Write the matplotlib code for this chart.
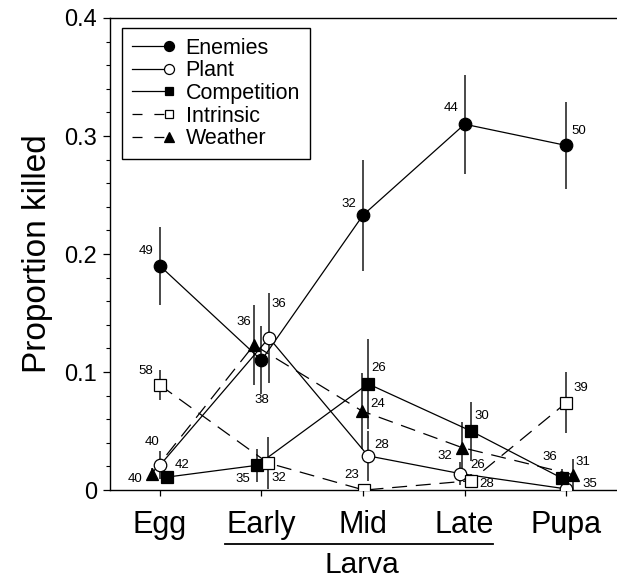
import matplotlib
matplotlib.use("Agg")
import matplotlib.pyplot as plt
import matplotlib.transforms as mtransforms
from matplotlib.legend_handler import HandlerBase
from matplotlib.lines import Line2D
from matplotlib.ticker import MultipleLocator

plt.rcParams["font.family"] = ["Liberation Sans", "DejaVu Sans"]

STAGES = ["Egg", "Early", "Mid", "Late", "Pupa"]
SERIES = ["Enemies", "Plant", "Competition", "Intrinsic", "Weather"]

enemies = [0.190, 0.110, 0.233, 0.310, 0.292]
plant = [0.021, 0.129, 0.029, 0.014, 0.001]
competition = [0.011, 0.021, 0.090, 0.050, 0.010]
intrinsic = [0.089, 0.023, 0.000, 0.008, 0.074]
weather = [0.014, 0.123, 0.067, 0.036, 0.013]

enemies_se = [0.033, 0.029, 0.047, 0.042, 0.037]
plant_se = [0.012, 0.038, 0.021, 0.010, 0.003]
competition_se = [0.004, 0.014, 0.038, 0.025, 0.008]
intrinsic_se = [0.013, 0.022, 0.000, 0.006, 0.026]
weather_se = [0.005, 0.034, 0.032, 0.022, 0.013]

enemies_n = [49, 38, 32, 44, 50]
plant_n = [40, 36, 28, 26, 35]
competition_n = [42, 35, 26, 30, 36]
intrinsic_n = [58, 32, 23, 28, 39]
weather_n = [40, 36, 24, 32, 31]

VALS = {"Enemies": enemies, "Plant": plant, "Competition": competition,
        "Intrinsic": intrinsic, "Weather": weather}
SES = {"Enemies": enemies_se, "Plant": plant_se, "Competition": competition_se,
       "Intrinsic": intrinsic_se, "Weather": weather_se}
NS = {"Enemies": enemies_n, "Plant": plant_n, "Competition": competition_n,
      "Intrinsic": intrinsic_n, "Weather": weather_n}

# horizontal nudges (category units) so overlapping points separate
DODGE = {"Enemies": [0, 0, 0, 0, 0],
         "Plant": [0, 0.074, 0.05, -0.044, 0],
         "Competition": [0.069, -0.044, 0.05, 0.064, -0.04],
         "Intrinsic": [0, 0.064, 0.01, 0.064, 0],
         "Weather": [-0.08, -0.074, -0.01, -0.025, 0.069]}
# sample-size label offsets (pixels, up is positive)
LOFF = {"Enemies": [(-14, 15), (0, -40), (-14, 11), (-14, 16), (13, 14)],
        "Plant": [(-8, 23), (10, 34), (14, 11), (18, 9), (24, 5)],
        "Competition": [(15, 12), (-14, -14), (11, 16), (11, 15), (-12, 21)],
        "Intrinsic": [(-14, 14), (11, -15), (-12, 15), (16, -3), (15, 15)],
        "Weather": [(-17, -5), (-10, 23), (16, 7), (-17, -8), (10, 13)]}

DASH = (0, (12, 7))
STYLE = {"Enemies": dict(marker="o", mfc="black", ls="-", ms=9),
         "Plant": dict(marker="o", mfc="white", ls="-", ms=9),
         "Competition": dict(marker="s", mfc="black", ls="-", ms=8),
         "Intrinsic": dict(marker="s", mfc="white", ls=DASH, ms=8),
         "Weather": dict(marker="^", mfc="black", ls=DASH, ms=9)}


class EndMarker(HandlerBase):
    # line with the marker sitting at its right end, as in the printed key
    def create_artists(self, legend, orig, xd, yd, w, h, fs, trans):
        y = h / 2 - yd
        ls = orig.get_linestyle()
        dashed = ls not in ("-", "solid")
        ln = Line2D([-xd, w - xd], [y, y], color="black", lw=0.9,
                    ls=(0, (8, 9.5)) if dashed else "-")
        mk = Line2D([w - xd], [y], ls="none", marker=orig.get_marker(),
                    ms=orig.get_markersize() * 0.8, mfc=orig.get_markerfacecolor(),
                    mec="black", mew=0.9)
        ln.set_transform(trans); mk.set_transform(trans)
        return [ln, mk]


fig = plt.figure(figsize=(6.17, 5.8), dpi=100)
ax = fig.add_axes([0.178, 0.155, 0.822, 0.814])

handles = []
for s in SERIES:
    st = STYLE[s]
    xs = [i + d for i, d in enumerate(DODGE[s])]
    ax.errorbar(xs, VALS[s], yerr=SES[s], fmt="none", ecolor="#2a2a2a",
                elinewidth=1.2, capsize=0, zorder=2)
    ax.plot(xs, VALS[s], color="black", lw=0.9, ls=st["ls"], zorder=3)
    ax.plot(xs, VALS[s], ls="none", marker=st["marker"], ms=st["ms"],
            mfc=st["mfc"], mec="black", mew=0.9, zorder=4)
    handles.append(Line2D([], [], color="black", ls=st["ls"], marker=st["marker"],
                          ms=st["ms"], mfc=st["mfc"], label=s))
    for x, y, n, (dx, dy) in zip(xs, VALS[s], NS[s], LOFF[s]):
        ax.annotate(str(n), (x, y), xytext=(dx, dy), textcoords="offset pixels",
                    ha="center", va="center", fontsize=9.5)

ax.set_xlim(-0.493, 4.5)
ax.set_ylim(0, 0.4)
ax.set_xticks(range(len(STAGES)))
ax.set_xticklabels(STAGES, fontsize=22)
ax.set_yticks([0, 0.1, 0.2, 0.3, 0.4])
ax.set_yticklabels(["0", "0.1", "0.2", "0.3", "0.4"], fontsize=17)
ax.yaxis.set_minor_locator(MultipleLocator(0.02))
ax.tick_params(axis="y", which="major", length=5, width=0.9, pad=4)
ax.tick_params(axis="y", which="minor", length=3, width=0.8)
ax.tick_params(axis="x", length=4, width=0.9, pad=10)
ax.spines["right"].set_visible(False)
for sp in ("left", "top", "bottom"):
    ax.spines[sp].set_linewidth(1.0)
ax.set_ylabel("Proportion killed", fontsize=24, labelpad=8)

# Larva bracket under Early..Late
tr = mtransforms.blended_transform_factory(ax.transData, ax.transAxes)
ax.plot([0.64, 3.28], [-0.114, -0.114], color="black", lw=1.3, transform=tr, clip_on=False)
ax.text(1.99, -0.129, "Larva", transform=tr, ha="center", va="top", fontsize=21.5)

lg = ax.legend(handles=handles, loc="upper left", bbox_to_anchor=(0.024, 0.979),
               fontsize=15.5, handler_map={Line2D: EndMarker()},
               handlelength=1.75, handletextpad=0.75, labelspacing=0.08,
               borderpad=0.45, borderaxespad=0, fancybox=False, framealpha=1,
               edgecolor="black")
lg.get_frame().set_linewidth(1.0)

fig.savefig("out.png", dpi=100)
